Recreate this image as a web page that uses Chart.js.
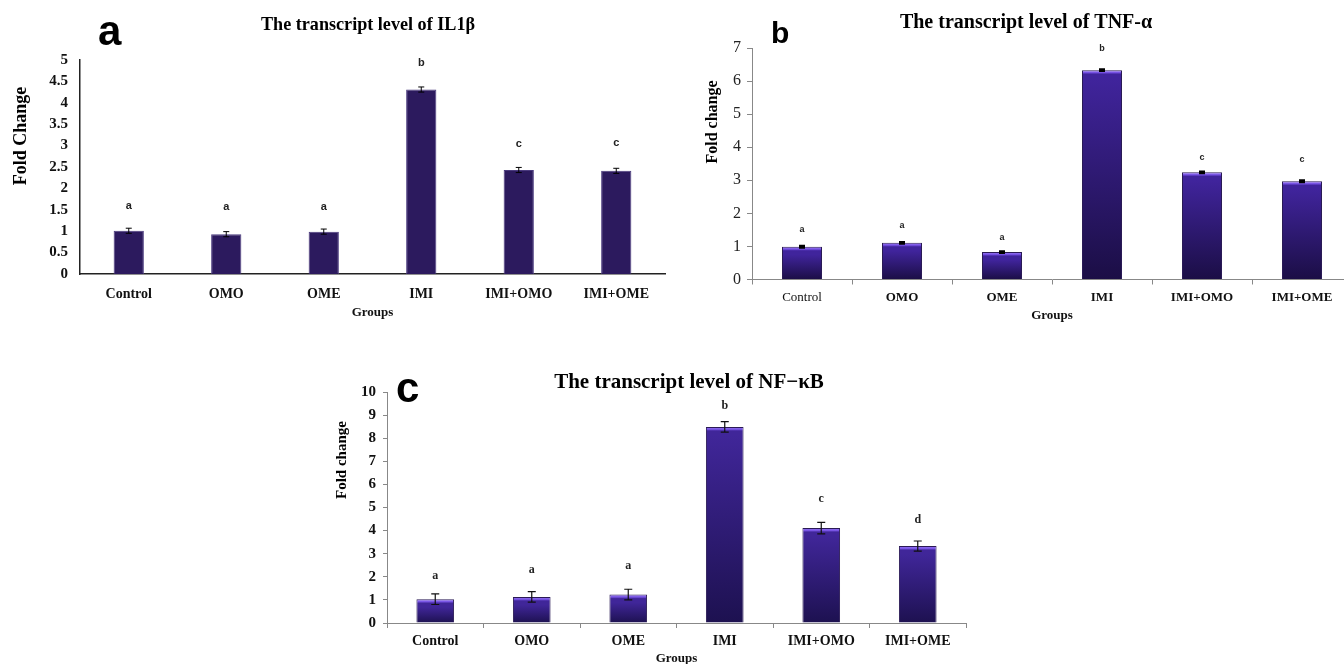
<!DOCTYPE html>
<html>
<head>
<meta charset="utf-8">
<script src="https://cdn.jsdelivr.net/npm/chart.js"></script>
<style>
  html, body { margin: 0; padding: 0; background: #fff; overflow: hidden; width: 1344px; height: 664px; }
  .panel { position: absolute; }
</style>
</head>
<body>
<div class="panel" style="left:0;top:0;width:680px;height:330px"><canvas id="chA"></canvas></div>
<div class="panel" style="left:680px;top:0;width:680px;height:330px"><canvas id="chB"></canvas></div>
<div class="panel" style="left:320px;top:334px;width:700px;height:336px"><canvas id="chC"></canvas></div>
<script>
// data
var groups = ["Control", "OMO", "OME", "IMI", "IMI+OMO", "IMI+OME"];

var il1b = [1.01, 0.93, 0.99, 4.31, 2.43, 2.41];
var il1bErr = [0.06, 0.06, 0.06, 0.06, 0.06, 0.06];
var il1bLetters = ["a", "a", "a", "b", "c", "c"];
var il1bLetterY = [1.6, 1.56, 1.56, 4.93, 3.04, 3.07];
var il1bTicks = [0, 0.5, 1, 1.5, 2, 2.5, 3, 3.5, 4, 4.5, 5];

var tnf = [0.99, 1.11, 0.83, 6.33, 3.24, 2.97];
var tnfErr = [0.02, 0.02, 0.02, 0.02, 0.02, 0.02];
var tnfLetters = ["a", "a", "a", "b", "c", "c"];
var tnfLetterY = [1.52, 1.64, 1.28, 6.97, 3.7, 3.64];
var tnfTicks = [0, 1, 2, 3, 4, 5, 6, 7];

var nfkb = [1.03, 1.13, 1.23, 8.49, 4.11, 3.33];
var nfkbErr = [0.23, 0.23, 0.23, 0.23, 0.25, 0.22];
var nfkbLetters = ["a", "a", "a", "b", "c", "d"];
var nfkbLetterY = [2.06, 2.28, 2.45, 9.38, 5.38, 4.47];
var nfkbTicks = [0, 1, 2, 3, 4, 5, 6, 7, 8, 9, 10];

var SERIF = "'Liberation Serif', 'Times New Roman', serif";
var SANS = "'Liberation Sans', Arial, sans-serif";

// error bars, significance letters and free texts
function extras(cfg) {
  return {
    id: 'extras',
    afterDatasetsDraw: function(chart) {
      var ctx = chart.ctx, y = chart.scales.y;
      var meta = chart.getDatasetMeta(0);
      ctx.save();
      meta.data.forEach(function(bar, i) {
        var v = cfg.values[i], e = cfg.err[i];
        var yt = y.getPixelForValue(v + e), yb = y.getPixelForValue(v - e);
        ctx.strokeStyle = cfg.errColor;
        ctx.lineWidth = cfg.errWidth;
        ctx.beginPath();
        ctx.moveTo(bar.x, yt); ctx.lineTo(bar.x, yb);
        ctx.moveTo(bar.x - cfg.cap, yt); ctx.lineTo(bar.x + cfg.cap, yt);
        ctx.moveTo(bar.x - cfg.cap, yb); ctx.lineTo(bar.x + cfg.cap, yb);
        ctx.stroke();
        ctx.fillStyle = '#222';
        ctx.font = cfg.letterFont;
        ctx.textAlign = 'center';
        ctx.textBaseline = 'middle';
        ctx.fillText(cfg.letters[i], bar.x, y.getPixelForValue(cfg.letterY[i]));
      });
      cfg.texts.forEach(function(t) {
        ctx.save();
        ctx.translate(t.x, t.y);
        if (t.rot) ctx.rotate(t.rot);
        ctx.font = t.font;
        ctx.fillStyle = '#000';
        ctx.textAlign = t.align || 'center';
        ctx.textBaseline = t.baseline || 'middle';
        if (t.maxW) ctx.fillText(t.text, 0, 0, t.maxW);
        else ctx.fillText(t.text, 0, 0);
        ctx.restore();
      });
      ctx.restore();
    }
  };
}

// glossy gradient used by panels b and c
function shiny(band, light, top, bottom) {
  return function(context) {
    var chart = context.chart, y = chart.scales.y;
    if (!chart.chartArea || context.raw == null) return bottom;
    var yt = y.getPixelForValue(context.raw), yb = y.getPixelForValue(0);
    var h = Math.max(yb - yt, 1);
    var f = Math.min(4 / h, 0.3);
    var g = chart.ctx.createLinearGradient(0, yt, 0, yb);
    g.addColorStop(0, band);
    g.addColorStop(f * 0.6, light);
    g.addColorStop(f, top);
    g.addColorStop(Math.min(f * 2, 0.5), top);
    g.addColorStop(1, bottom);
    return g;
  };
}

Chart.defaults.animation = false;

// ---- panel a
new Chart(document.getElementById('chA'), {
  type: 'bar',
  data: {
    labels: groups,
    datasets: [{
      data: il1b,
      backgroundColor: '#2c1a5e',
      borderColor: '#4a3a7e',
      borderWidth: 1,
      categoryPercentage: 1,
      barPercentage: 0.31
    }]
  },
  options: {
    responsive: true,
    maintainAspectRatio: false,
    layout: { padding: { top: 60, right: 15, left: 0, bottom: 0 } },
    plugins: { legend: { display: false }, tooltip: { enabled: false } },
    scales: {
      x: {
        grid: { display: false, drawTicks: false },
        border: { color: '#222', width: 1.5 },
        ticks: { color: '#111', padding: 12, font: { family: SERIF, size: 14, weight: 'bold' } },
        title: { display: true, text: 'Groups', color: '#111', padding: { top: 0, bottom: 10 },
                 font: { family: SERIF, size: 13, weight: 'bold' } },
        afterFit: function(s) { s.height = 56; }
      },
      y: {
        min: 0, max: 5,
        afterBuildTicks: function(s) { s.ticks = il1bTicks.map(function(v) { return { value: v }; }); },
        grid: { display: false, drawTicks: false },
        border: { color: '#222', width: 1.5 },
        ticks: { color: '#111', padding: 12, font: { family: SERIF, size: 15, weight: 'bold' },
                 callback: function(v) { return String(v); } },
        afterFit: function(s) { s.width = 80; }
      }
    }
  },
  plugins: [extras({
    values: il1b, err: il1bErr, letters: il1bLetters, letterY: il1bLetterY,
    errColor: '#000', errWidth: 1, cap: 3,
    letterFont: 'bold 11px ' + SANS,
    texts: [
      { text: 'a', x: 98, y: 45, align: 'left', baseline: 'alphabetic', font: 'bold 42px ' + SANS },
      { text: 'The transcript level of IL1\u03b2', x: 368, y: 25, font: 'bold 19px ' + SERIF, maxW: 214 },
      { text: 'Fold Change', x: 21, y: 136, rot: -Math.PI / 2, font: 'bold 18px ' + SERIF, maxW: 102 }
    ]
  })]
});

// ---- panel b
new Chart(document.getElementById('chB'), {
  type: 'bar',
  data: {
    labels: groups,
    datasets: [{
      data: tnf,
      backgroundColor: shiny('#a284f7', '#7650e4', '#40249c', '#1b0e45'),
      borderColor: '#2a1a55',
      borderWidth: 1,
      categoryPercentage: 1,
      barPercentage: 0.4
    }]
  },
  options: {
    responsive: true,
    maintainAspectRatio: false,
    layout: { padding: { top: 48, right: 8, left: 0, bottom: 0 } },
    plugins: { legend: { display: false }, tooltip: { enabled: false } },
    scales: {
      x: {
        grid: { display: true, drawOnChartArea: false, drawTicks: true, tickLength: 5, color: '#888' },
        border: { color: '#888', width: 1 },
        ticks: { color: '#111', padding: 5,
                 font: function(c) { return { family: SERIF, size: 13, weight: c.index === 0 ? 'normal' : 'bold' }; } },
        title: { display: true, text: 'Groups', color: '#111', padding: { top: 0, bottom: 7 },
                 font: { family: SERIF, size: 13, weight: 'bold' } },
        afterFit: function(s) { s.height = 50.5; }
      },
      y: {
        min: 0, max: 7,
        afterBuildTicks: function(s) { s.ticks = tnfTicks.map(function(v) { return { value: v }; }); },
        grid: { display: true, drawOnChartArea: false, drawTicks: true, tickLength: 5, color: '#888' },
        border: { color: '#888', width: 1 },
        ticks: { color: '#222', padding: 6, font: { family: SERIF, size: 16 } },
        afterFit: function(s) { s.width = 72; }
      }
    }
  },
  plugins: [extras({
    values: tnf, err: tnfErr, letters: tnfLetters, letterY: tnfLetterY,
    errColor: '#000', errWidth: 2.5, cap: 3,
    letterFont: 'bold 9px ' + SANS,
    texts: [
      { text: 'b', x: 91, y: 43, align: 'left', baseline: 'alphabetic', font: 'bold 30px ' + SANS },
      { text: 'The transcript level of TNF-\u03b1', x: 346, y: 23, font: 'bold 20px ' + SERIF, maxW: 258 },
      { text: 'Fold change', x: 33, y: 122, rot: -Math.PI / 2, font: 'bold 16px ' + SERIF, maxW: 91 }
    ]
  })]
});

// ---- panel c
new Chart(document.getElementById('chC'), {
  type: 'bar',
  data: {
    labels: groups,
    datasets: [{
      data: nfkb,
      backgroundColor: shiny('#9676f2', '#7a56e6', '#402699', '#1d1150'),
      borderColor: '#2a1a55',
      borderWidth: 1,
      categoryPercentage: 1,
      barPercentage: 0.39
    }]
  },
  options: {
    responsive: true,
    maintainAspectRatio: false,
    layout: { padding: { top: 58, right: 54, left: 0, bottom: 0 } },
    plugins: { legend: { display: false }, tooltip: { enabled: false } },
    scales: {
      x: {
        grid: { display: true, drawOnChartArea: false, drawTicks: true, tickLength: 5, color: '#888' },
        border: { color: '#888', width: 1 },
        ticks: { color: '#111', padding: 5, font: { family: SERIF, size: 14, weight: 'bold' } },
        title: { display: true, text: 'Groups', color: '#111', padding: { top: 0, bottom: 4 },
                 font: { family: SERIF, size: 13, weight: 'bold' } },
        afterFit: function(s) { s.height = 47; }
      },
      y: {
        min: 0, max: 10,
        afterBuildTicks: function(s) { s.ticks = nfkbTicks.map(function(v) { return { value: v }; }); },
        grid: { display: true, drawOnChartArea: false, drawTicks: true, tickLength: 4, color: '#888' },
        border: { color: '#888', width: 1 },
        ticks: { color: '#111', padding: 7, font: { family: SERIF, size: 15, weight: 'bold' } },
        afterFit: function(s) { s.width = 67; }
      }
    }
  },
  plugins: [extras({
    values: nfkb, err: nfkbErr, letters: nfkbLetters, letterY: nfkbLetterY,
    errColor: '#111', errWidth: 1.2, cap: 4,
    letterFont: 'bold 12px ' + SERIF,
    texts: [
      { text: 'c', x: 76, y: 68, align: 'left', baseline: 'alphabetic', font: 'bold 42px ' + SANS },
      { text: 'The transcript level of NF\u2212\u03baB', x: 369, y: 49, font: 'bold 21px ' + SERIF, maxW: 276 },
      { text: 'Fold change', x: 22, y: 126, rot: -Math.PI / 2, font: 'bold 15px ' + SERIF, maxW: 86 }
    ]
  })]
});
</script>
</body>
</html>
